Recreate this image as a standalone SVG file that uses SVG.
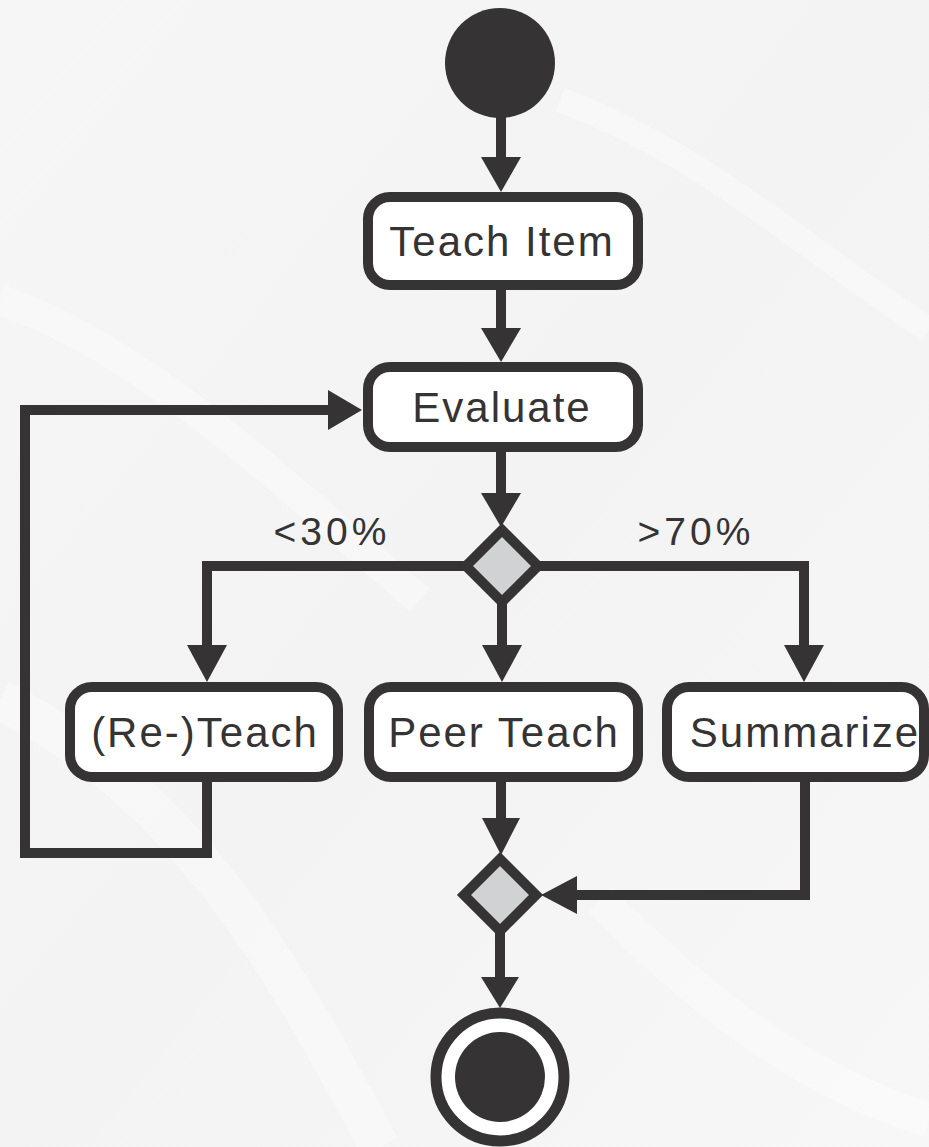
<svg xmlns="http://www.w3.org/2000/svg" width="929" height="1147" viewBox="0 0 929 1147">
<defs>
<linearGradient id="bg" x1="0" y1="0" x2="1" y2="1">
<stop offset="0" stop-color="#f6f6f6"/>
<stop offset="0.5" stop-color="#f3f3f3"/>
<stop offset="1" stop-color="#f7f7f7"/>
</linearGradient>
<style>
.ln{fill:none;stroke:#353334;stroke-width:10;stroke-linejoin:miter;stroke-linecap:square}
.ah{fill:#353334}
.box{fill:#ffffff;stroke:#353334;stroke-width:10}
.dia{fill:#d1d2d4;stroke:#353334;stroke-width:10}
.lbl{font-family:"Liberation Sans",Arial,sans-serif;font-size:42px;fill:#353334;text-anchor:middle;letter-spacing:2px}
.grd{font-family:"Liberation Sans",Arial,sans-serif;font-size:39px;fill:#353334;text-anchor:middle;letter-spacing:4px}
.streak{fill:none;stroke:#ffffff;stroke-opacity:0.35}
</style>
</defs>
<rect width="929" height="1147" fill="url(#bg)"/>
<g id="texture">
<path class="streak" stroke-width="40" d="M0 700 C200 800 300 1000 380 1147"/>
<path class="streak" stroke-width="30" d="M0 300 C150 350 300 500 420 600"/>
<path class="streak" stroke-width="35" d="M600 900 C700 1000 800 1080 929 1120"/>
<path class="streak" stroke-width="25" d="M560 100 C700 150 820 260 929 330"/>
</g>
<g id="connectors">
<line class="ln" x1="501" y1="115" x2="501" y2="160"/>
<polygon class="ah" points="481,157 521,157 501,192"/>
<line class="ln" x1="501" y1="290" x2="501" y2="332"/>
<polygon class="ah" points="481,328 521,328 501,362"/>
<polyline class="ln" points="207,780 207,853 25,853 25,410 332,410"/>
<polygon class="ah" points="328,390 328,430 362,410"/>
<line class="ln" x1="501" y1="452" x2="501" y2="496"/>
<polygon class="ah" points="481,493 521,493 501,527"/>
<polyline class="ln" points="462,566 207,566 207,648"/>
<polygon class="ah" points="187,645 227,645 207,682"/>
<line class="ln" x1="502" y1="605" x2="502" y2="648"/>
<polygon class="ah" points="482,645 522,645 502,682"/>
<polyline class="ln" points="542,566 804,566 804,648"/>
<polygon class="ah" points="784,645 824,645 804,682"/>
<line class="ln" x1="501" y1="782" x2="501" y2="822"/>
<polygon class="ah" points="482,818 520,818 501,855"/>
<polyline class="ln" points="805,782 805,895 575,895"/>
<polygon class="ah" points="577,876 577,914 541,895"/>
<line class="ln" x1="500" y1="935" x2="500" y2="980"/>
<polygon class="ah" points="481,977 519,977 500,1008"/>
</g>
<g id="start"><circle cx="500" cy="63" r="55" fill="#353334"/></g>
<g id="teach-item">
<rect class="box" x="368" y="197" width="270" height="88" rx="22"/>
<text class="lbl" x="502" y="256">Teach Item</text>
</g>
<g id="evaluate">
<rect class="box" x="368" y="367" width="270" height="80" rx="22"/>
<text class="lbl" x="502" y="422">Evaluate</text>
</g>
<g id="decision">
<polygon class="dia" points="502,530 538,566 502,602 466,566"/>
</g>
<text class="grd" x="332" y="545">&lt;30%</text>
<text class="grd" x="696" y="545">&gt;70%</text>
<g id="reteach">
<rect class="box" x="70" y="687" width="268" height="90" rx="22"/>
<text class="lbl" x="205" y="747">(Re-)Teach</text>
</g>
<g id="peer-teach">
<rect class="box" x="369" y="687" width="269" height="90" rx="22"/>
<text class="lbl" x="504" y="747">Peer Teach</text>
</g>
<g id="summarize">
<rect class="box" x="667" y="687" width="257" height="90" rx="22"/>
<text class="lbl" x="805" y="747">Summarize</text>
</g>
<g id="merge">
<polygon class="dia" points="500,859 536,895 500,931 464,895"/>
</g>
<g id="end">
<circle cx="500" cy="1077" r="64" fill="#ffffff" stroke="#353334" stroke-width="11"/>
<circle cx="500" cy="1077" r="45" fill="#353334"/>
</g>
</svg>
